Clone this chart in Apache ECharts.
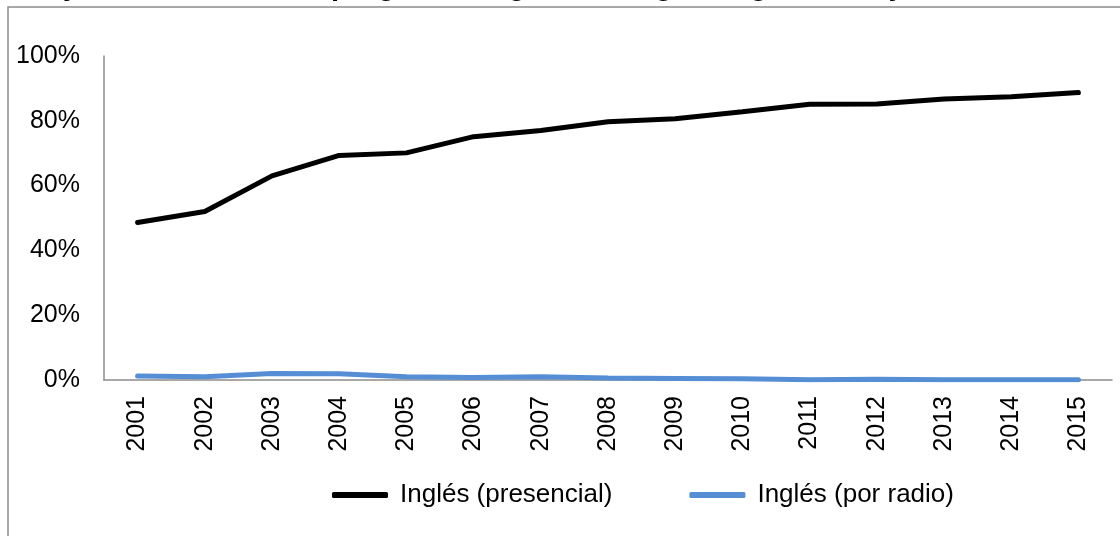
<!DOCTYPE html>
<html>
<head>
<meta charset="utf-8">
<script src="https://cdn.jsdelivr.net/npm/echarts@6/dist/echarts.min.js"></script>
<style>
  html, body { margin: 0; padding: 0; background: #fff; }
  #chart { width: 1120px; height: 536px; }
</style>
</head>
<body>
<div id="chart"></div>
<script>
const years = ['2001', '2002', '2003', '2004', '2005', '2006', '2007', '2008',
  '2009', '2010', '2011', '2012', '2013', '2014', '2015']
const presencial = [48.6, 52.0, 63.0, 69.3, 70.1, 75.1, 77.0, 79.7, 80.6, 82.8, 85.1, 85.2, 86.7, 87.4, 88.7]
const porRadio = [1.2, 1.0, 2.0, 1.9, 1.0, 0.8, 1.0, 0.6, 0.5, 0.4, 0.1, 0.2, 0.1, 0.1, 0.1]
const yTicks = [0, 20, 40, 60, 80, 100]

const font = 'Liberation Sans, Arial, sans-serif'
const chart = echarts.init(document.getElementById('chart'))

chart.setOption({
  animation: false,
  title: {
    text: 'Porcentaje de cobertura del programa Segunda Lengua: Inglés 2001 y 2015',
    left: -64,
    top: -33,
    textStyle: { fontFamily: font, fontSize: 29, fontWeight: 'bold', color: '#000' }
  },
  graphic: [{
    type: 'rect',
    shape: { x: 8, y: 7, width: 1200, height: 600 },
    style: { fill: 'none', stroke: '#8c8c8c', lineWidth: 1.5 },
    silent: true
  }],
  legend: {
    top: 477,
    left: 327,
    itemWidth: 56,
    itemHeight: 6,
    itemGap: 77,
    icon: 'roundRect',
    textStyle: { fontFamily: font, fontSize: 26, color: '#000', padding: [0, 0, 0, 7] },
    data: ['Inglés (presencial)', 'Inglés (por radio)']
  },
  grid: { left: 104, right: 8, top: 56, bottom: 156 },
  xAxis: {
    type: 'category',
    data: years,
    boundaryGap: true,
    axisLine: { lineStyle: { color: '#8c8c8c', width: 1.5 } },
    axisTick: { show: false },
    axisLabel: { rotate: 90, margin: 16, fontFamily: font, fontSize: 25, color: '#000' }
  },
  yAxis: {
    type: 'value',
    min: yTicks[0],
    max: yTicks[yTicks.length - 1],
    interval: 20,
    splitLine: { show: false },
    axisLine: { show: true, lineStyle: { color: '#8c8c8c', width: 1.5 } },
    axisTick: { show: false },
    axisLabel: { margin: 24, formatter: '{value}%', fontFamily: font, fontSize: 25, color: '#000' }
  },
  series: [
    {
      name: 'Inglés (presencial)',
      type: 'line',
      data: presencial,
      symbol: 'none',
      lineStyle: { color: '#000', width: 5, cap: 'round' },
      itemStyle: { color: '#000' }
    },
    {
      name: 'Inglés (por radio)',
      type: 'line',
      data: porRadio,
      symbol: 'none',
      lineStyle: { color: '#558ed5', width: 5, cap: 'round' },
      itemStyle: { color: '#558ed5' }
    }
  ]
})
</script>
</body>
</html>
